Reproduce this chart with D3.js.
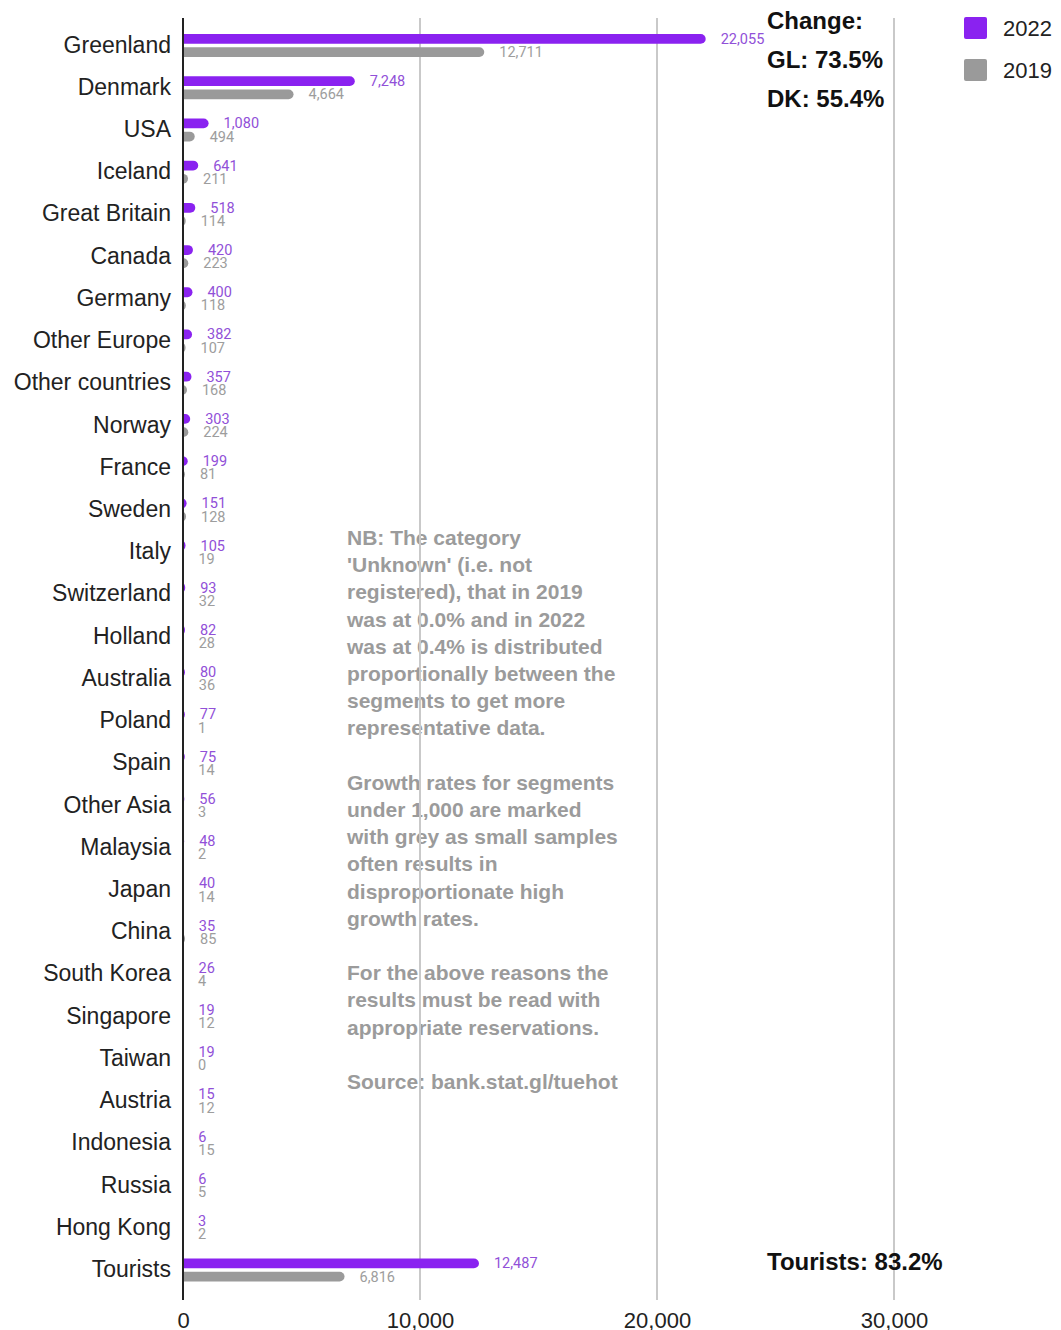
<!DOCTYPE html>
<html>
<head>
<meta charset="utf-8">
<script src="https://cdn.jsdelivr.net/npm/d3@7"></script>
<style>
  html, body { margin: 0; padding: 0; background: #fff; }
  svg { display: block; }
</style>
</head>
<body>
<svg id="chart" width="1061" height="1330"></svg>
<script>
// Visitors by nationality, 2022 vs 2019
const categories = ["Greenland", "Denmark", "USA", "Iceland", "Great Britain", "Canada", "Germany",
  "Other Europe", "Other countries", "Norway", "France", "Sweden", "Italy", "Switzerland", "Holland",
  "Australia", "Poland", "Spain", "Other Asia", "Malaysia", "Japan", "China", "South Korea",
  "Singapore", "Taiwan", "Austria", "Indonesia", "Russia", "Hong Kong", "Tourists"];
const values2022 = [22055, 7248, 1080, 641, 518, 420, 400, 382, 357, 303, 199, 151, 105, 93, 82,
  80, 77, 75, 56, 48, 40, 35, 26, 19, 19, 15, 6, 6, 3, 12487];
const values2019 = [12711, 4664, 494, 211, 114, 223, 118, 107, 168, 224, 81, 128, 19, 32, 28,
  36, 1, 14, 3, 2, 14, 85, 4, 12, 0, 12, 15, 5, 2, 6816];
const seriesNames = ["2022", "2019"];
const xTicks = [0, 10000, 20000, 30000];
const changeLines = ["Change:", "GL: 73.5%", "DK: 55.4%"];
const touristChange = "Tourists: 83.2%";
const noteLines = [
  "NB: The category",
  "'Unknown' (i.e. not",
  "registered), that in 2019",
  "was at 0.0% and in 2022",
  "was at 0.4% is distributed",
  "proportionally between the",
  "segments to get more",
  "representative data.",
  "",
  "Growth rates for segments",
  "under 1,000 are marked",
  "with grey as small samples",
  "often results in",
  "disproportionate high",
  "growth rates.",
  "",
  "For the above reasons the",
  "results must be read with",
  "appropriate reservations.",
  "",
  "Source: bank.stat.gl/tuehot"
];

const barColors = { "2022": "#8a22f0", "2019": "#9a9a9a" };
const labelColors = { "2022": "#9150d8", "2019": "#9d9d9d" };

const svg = d3.select("#chart");
const font = "'Liberation Sans', Arial, sans-serif";

const plotTop = 18, plotBottom = 1300;
const x = d3.scaleLinear().domain([0, 30000]).range([183, 894]);
const y = d3.scaleBand().domain(categories).range([24.4, 1291.1]).paddingInner(0).paddingOuter(0);
const sub = d3.scaleBand().domain(seriesNames).range([-11.5, 11.5]).paddingInner(0.26).paddingOuter(0);

const rows = categories.map((c, i) => ({ cat: c, "2022": values2022[i], "2019": values2019[i] }));

// Explanatory note in the plot area
const note = svg.append("g").attr("font-family", font).attr("font-weight", "bold")
  .attr("font-size", 21).attr("fill", "#9b9b9b");
noteLines.forEach((t, i) => {
  if (t) note.append("text").attr("x", 347).attr("y", 545 + i * 27.2).text(t);
});

// Vertical gridlines
svg.append("g").selectAll("line").data(xTicks.filter(d => d > 0)).join("line")
  .attr("x1", d => x(d)).attr("x2", d => x(d))
  .attr("y1", plotTop).attr("y2", plotBottom)
  .attr("stroke", "#c9c9c9").attr("stroke-width", 2);

// Bars, rounded on the right end only (left end clipped at zero)
svg.append("defs").append("clipPath").attr("id", "plotClip")
  .append("rect").attr("x", x(0)).attr("y", 0).attr("width", 900).attr("height", 1330);

const barsG = svg.append("g").attr("clip-path", "url(#plotClip)");
const rowG = svg.append("g");
seriesNames.forEach(s => {
  barsG.selectAll("rect.b" + s).data(rows).join("rect")
    .attr("class", "b" + s)
    .attr("x", x(0) - 5)
    .attr("y", d => y(d.cat) + y.bandwidth() / 2 + sub(s))
    .attr("width", d => x(d[s]) - x(0) + 5)
    .attr("height", sub.bandwidth())
    .attr("rx", 5).attr("ry", 5)
    .attr("fill", barColors[s]);

  rowG.selectAll("text.l" + s).data(rows).join("text")
    .attr("class", "l" + s)
    .attr("x", d => x(d[s]) + 15)
    .attr("y", d => y(d.cat) + y.bandwidth() / 2 + sub(s) + sub.bandwidth() / 2 + 5)
    .attr("font-family", "Roboto, 'Liberation Sans', sans-serif")
    .attr("font-size", 14.5)
    .attr("fill", labelColors[s])
    .text(d => d3.format(",")(d[s]));
});

// Category axis line and labels
svg.append("line").attr("x1", x(0)).attr("x2", x(0)).attr("y1", plotTop).attr("y2", plotBottom)
  .attr("stroke", "#222").attr("stroke-width", 2);

svg.append("g").selectAll("text").data(categories).join("text")
  .attr("x", 171)
  .attr("y", d => y(d) + y.bandwidth() / 2 + 7)
  .attr("text-anchor", "end")
  .attr("font-family", font).attr("font-size", 23).attr("fill", "#222")
  .text(d => d);

// Value axis
const xAxis = svg.append("g").attr("transform", `translate(0,${plotBottom})`)
  .call(d3.axisBottom(x).tickValues(xTicks).tickFormat(d3.format(",")).tickSize(0).tickPadding(0));
xAxis.select(".domain").remove();
xAxis.selectAll("text").attr("font-family", font).attr("font-size", 22).attr("fill", "#222")
  .attr("dy", null).attr("y", 28);

// Growth annotations
const ann = svg.append("g").attr("font-family", font).attr("font-weight", "bold")
  .attr("font-size", 24).attr("fill", "#111");
changeLines.forEach((t, i) => ann.append("text").attr("x", 767).attr("y", 29 + i * 39).text(t));
ann.append("text").attr("x", 767).attr("y", 1270).text(touristChange);

// Legend
const legend = svg.append("g").attr("font-family", font).attr("font-size", 22).attr("fill", "#222");
seriesNames.forEach((s, i) => {
  const cy = 28 + i * 42;
  legend.append("rect").attr("x", 964).attr("y", cy - 11).attr("width", 23).attr("height", 22)
    .attr("rx", 2).attr("fill", barColors[s]);
  legend.append("text").attr("x", 1003).attr("y", cy + 8).text(s);
});
</script>
</body>
</html>
